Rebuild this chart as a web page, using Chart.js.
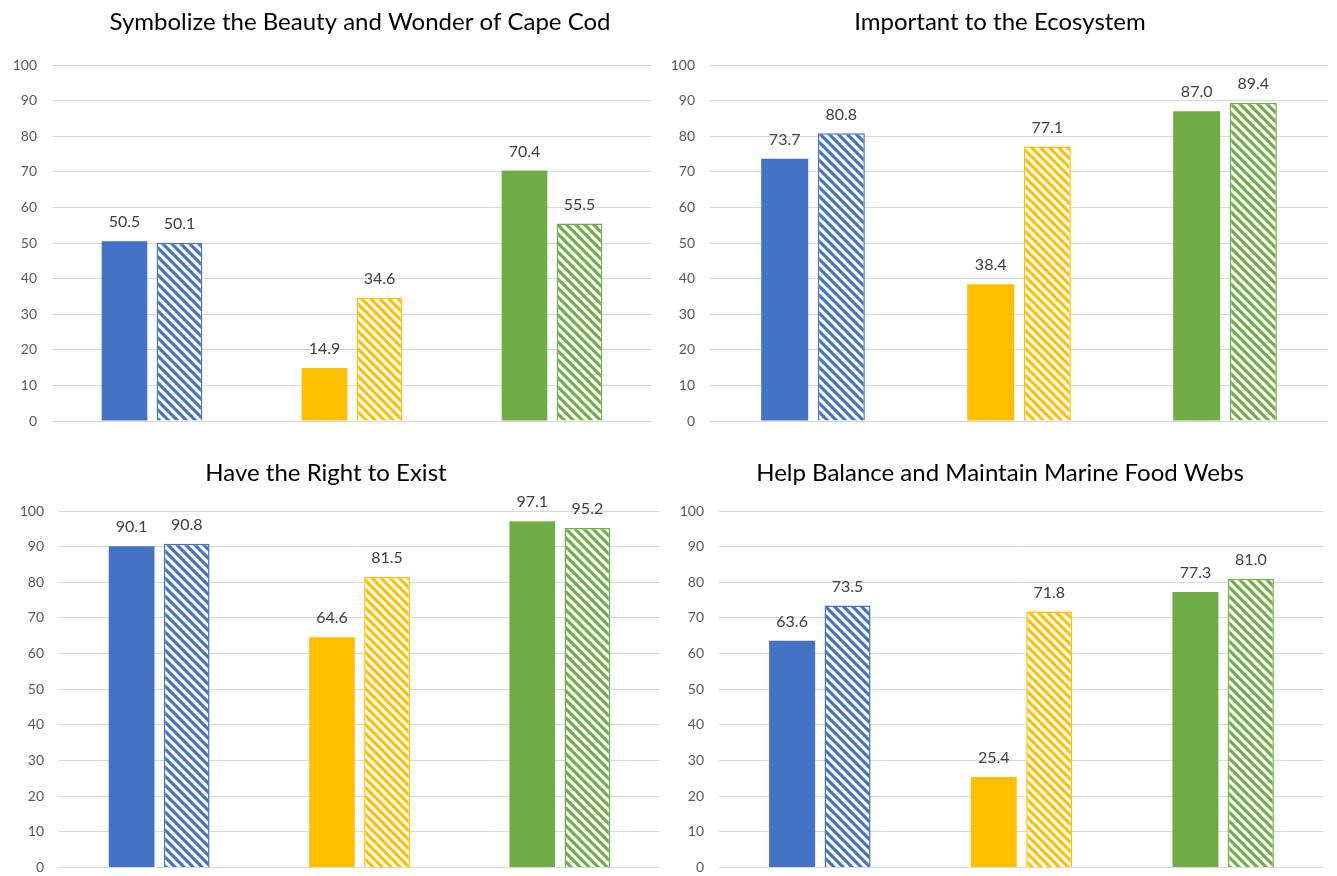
<!DOCTYPE html>
<html>
<head>
<meta charset="utf-8">
<title>Cape Cod survey – four panels</title>
<script src="https://cdn.jsdelivr.net/npm/chart.js@4.4.0/dist/chart.umd.min.js"></script>
<style>
  html, body { margin: 0; padding: 0; background: #ffffff; }
  #wrap { position: relative; width: 1337px; height: 876px; overflow: hidden; background: #ffffff; }
  canvas { position: absolute; display: block; }
</style>
</head>
<body>
<div id="wrap">
  <canvas id="c1" width="668" height="440" style="left:0px;top:0px"></canvas>
  <canvas id="c2" width="669" height="440" style="left:668px;top:0px"></canvas>
  <canvas id="c3" width="668" height="436" style="left:0px;top:440px"></canvas>
  <canvas id="c4" width="669" height="436" style="left:668px;top:440px"></canvas>
</div>
<script>
// ---- data ----
const categories = ['Group 1', 'Group 2', 'Group 3'];
const yTickValues = [0, 10, 20, 30, 40, 50, 60, 70, 80, 90, 100];

const panelTitles = [
  'Symbolize the Beauty and Wonder of Cape Cod',
  'Important to the Ecosystem',
  'Have the Right to Exist',
  'Help Balance and Maintain Marine Food Webs'
];

const beautySolid      = [50.5, 14.9, 70.4];
const beautyHatched    = [50.1, 34.6, 55.5];
const ecosystemSolid   = [73.7, 38.4, 87.0];
const ecosystemHatched = [80.8, 77.1, 89.4];
const rightSolid       = [90.1, 64.6, 97.1];
const rightHatched     = [90.8, 81.5, 95.2];
const foodWebSolid     = [63.6, 25.4, 77.3];
const foodWebHatched   = [73.5, 71.8, 81.0];

// ---- styling ----
const FONT = 'Lato, "Open Sans", "Liberation Sans", sans-serif';
const groupColors = ['#4472C4', '#FFC000', '#70AD47'];

// diagonal "\" stripes on white
function hatchPattern(color) {
  const size = 9;
  const c = document.createElement('canvas');
  c.width = size; c.height = size;
  const g = c.getContext('2d');
  g.fillStyle = '#ffffff';
  g.fillRect(0, 0, size, size);
  g.strokeStyle = color;
  g.lineWidth = 3.1;
  g.lineCap = 'square';
  g.beginPath();
  g.moveTo(-3, -3); g.lineTo(size + 3, size + 3);
  g.moveTo(-3, size - 3); g.lineTo(3, size + 3);
  g.moveTo(size - 3, -3); g.lineTo(size + 3, 3);
  g.stroke();
  return g.createPattern(c, 'repeat');
}

// panel frames: plot-area edges inside each canvas and title anchor
const frames = [
  { id: 'c1', solid: beautySolid,    hatched: beautyHatched,    left: 52, right: 16, top: 65, bottom: 19, titleX: 360, titleY: 22 },
  { id: 'c2', solid: ecosystemSolid, hatched: ecosystemHatched, left: 42, right: 9,  top: 65, bottom: 19, titleX: 332, titleY: 22 },
  { id: 'c3', solid: rightSolid,     hatched: rightHatched,     left: 59, right: 8,  top: 71, bottom: 8,  titleX: 326, titleY: 33 },
  { id: 'c4', solid: foodWebSolid,   hatched: foodWebHatched,   left: 51, right: 13, top: 71, bottom: 8,  titleX: 332, titleY: 33 }
];

// value labels above each bar
const valueLabels = {
  id: 'valueLabels',
  afterDatasetsDraw(chart) {
    const ctx = chart.ctx;
    ctx.save();
    ctx.font = '16px ' + FONT;
    ctx.fillStyle = '#404040';
    ctx.textAlign = 'center';
    ctx.textBaseline = 'middle';
    chart.data.datasets.forEach((ds, di) => {
      const meta = chart.getDatasetMeta(di);
      meta.data.forEach((bar, i) => {
        ctx.fillText(ds.data[i].toFixed(1), bar.x, bar.y - 19);
      });
    });
    ctx.restore();
  }
};

// panel heading
const panelTitle = {
  id: 'panelTitle',
  afterDraw(chart, args, opts) {
    const ctx = chart.ctx;
    ctx.save();
    ctx.font = '24px ' + FONT;
    ctx.fillStyle = '#000000';
    ctx.textAlign = 'center';
    ctx.textBaseline = 'middle';
    ctx.fillText(opts.text, opts.x, opts.y);
    ctx.restore();
  }
};

frames.forEach((f, k) => {
  const axisWidth = f.left;
  new Chart(document.getElementById(f.id), {
    type: 'bar',
    data: {
      labels: categories,
      datasets: [
        {
          label: 'solid',
          data: f.solid,
          backgroundColor: groupColors,
          borderWidth: 0,
          categoryPercentage: 0.55,
          barPercentage: 0.83
        },
        {
          label: 'hatched',
          data: f.hatched,
          backgroundColor: groupColors.map(hatchPattern),
          borderColor: groupColors,
          borderWidth: 1.5,
          categoryPercentage: 0.55,
          barPercentage: 0.83
        }
      ]
    },
    options: {
      responsive: false,
      animation: false,
      devicePixelRatio: 1,
      layout: { padding: { left: 0, right: f.right, top: f.top, bottom: f.bottom } },
      plugins: {
        legend: { display: false },
        tooltip: { enabled: false },
        title: { display: false },
        panelTitle: { text: panelTitles[k], x: f.titleX, y: f.titleY }
      },
      scales: {
        x: { display: false },
        y: {
          min: 0,
          max: 100,
          afterBuildTicks(scale) { scale.ticks = yTickValues.map(v => ({ value: v })); },
          afterFit(scale) { scale.width = axisWidth; },
          ticks: {
            color: '#595959',
            font: { family: FONT, size: 14 },
            padding: 0
          },
          grid: {
            color: '#D9D9D9',
            lineWidth: 1,
            drawTicks: true,
            tickLength: 15,
            tickColor: 'rgba(0,0,0,0)'
          },
          border: { display: false }
        }
      }
    },
    plugins: [valueLabels, panelTitle]
  });
});
</script>
</body>
</html>
